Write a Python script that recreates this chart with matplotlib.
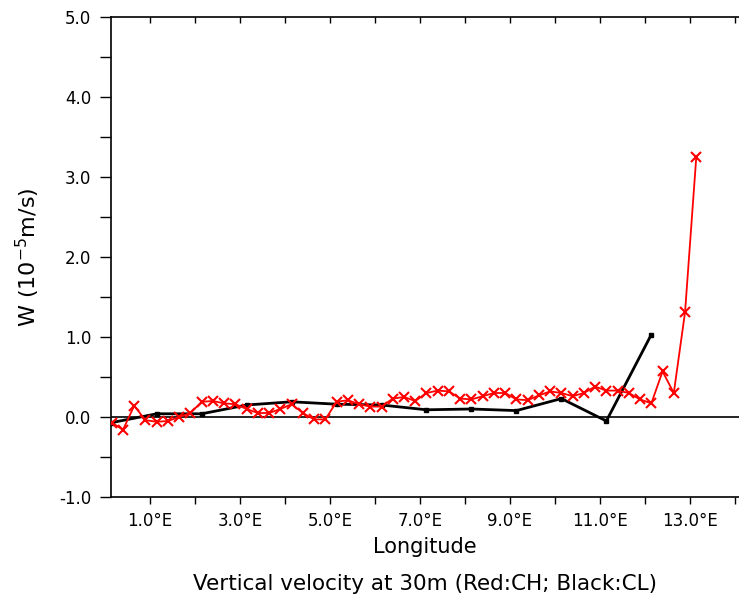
import numpy as np
import matplotlib
matplotlib.use("Agg")
import matplotlib.pyplot as plt
from matplotlib.ticker import MultipleLocator, FixedLocator

# CH run: every 0.25 deg
lon_ch = np.arange(53) * 0.25 + 0.15
w_ch = [-0.07, -0.16, 0.14, -0.04, -0.06, -0.05, 0.00, 0.05,
        0.19, 0.20, 0.17, 0.16, 0.10, 0.05, 0.05, 0.10,
        0.16, 0.05, -0.03, -0.03, 0.19, 0.21, 0.16, 0.13,
        0.13, 0.23, 0.25, 0.20, 0.30, 0.33, 0.32, 0.23,
        0.22, 0.26, 0.30, 0.30, 0.22, 0.21, 0.27, 0.32,
        0.30, 0.26, 0.30, 0.38, 0.33, 0.33, 0.30, 0.22,
        0.17, 0.57, 0.30, 1.31, 3.25]

# CL run: every 1 deg
lon_cl = np.arange(13) * 1.0 + 0.15
w_cl = [-0.07, 0.04, 0.04, 0.15, 0.19, 0.16, 0.15, 0.09,
        0.10, 0.08, 0.23, -0.05, 1.03]

xticks_major = [1, 3, 5, 7, 9, 11, 13]
xtick_labels = ["1.0°E", "3.0°E", "5.0°E", "7.0°E", "9.0°E", "11.0°E", "13.0°E"]
yticks = [-1, 0, 1, 2, 3, 4, 5]
ytick_labels = ["-1.0", "0.0", "1.0", "2.0", "3.0", "4.0", "5.0"]

fig = plt.figure(figsize=(7.39, 6.03), dpi=100)
ax = fig.add_axes([0.150, 0.1758, 0.850, 0.796])

ax.axhline(0, color="black", lw=1.2, zorder=1)
ax.plot(lon_cl, w_cl, color="black", lw=2.0, marker="s", ms=3, zorder=2)
ax.plot(lon_ch, w_ch, color="red", lw=1.3, marker="x", ms=6.5, mew=1.5, zorder=3)

ax.set_xlim(0.13, 14.1)
ax.set_ylim(-1, 5)

ax.xaxis.set_major_locator(FixedLocator(xticks_major))
ax.set_xticklabels(xtick_labels, fontsize=12)
ax.xaxis.set_minor_locator(MultipleLocator(1))
ax.set_yticks(yticks)
ax.set_yticklabels(ytick_labels, fontsize=12)
ax.yaxis.set_minor_locator(MultipleLocator(0.5))

ax.tick_params(axis="x", which="both", direction="out", length=5, width=1,
               top=False, pad=6)
ax.tick_params(axis="y", which="both", direction="out", length=8, width=1, pad=6)
ax.spines["right"].set_visible(False)
for s in ["left", "bottom", "top"]:
    ax.spines[s].set_linewidth(1.2)

# inward ticks along the top edge
top = ax.secondary_xaxis("top")
top.xaxis.set_major_locator(MultipleLocator(1))
top.tick_params(direction="in", length=4, width=1, labeltop=False)
top.spines["top"].set_visible(False)

ax.set_xlabel("Longitude", fontsize=15, labelpad=5)
ax.set_ylabel("W (10$^{-5}$m/s)", fontsize=16, labelpad=12)
fig.text(0.575, 0.032, "Vertical velocity at 30m (Red:CH; Black:CL)",
         ha="center", va="center", fontsize=15.5)

fig.savefig("out.png", dpi=100)
